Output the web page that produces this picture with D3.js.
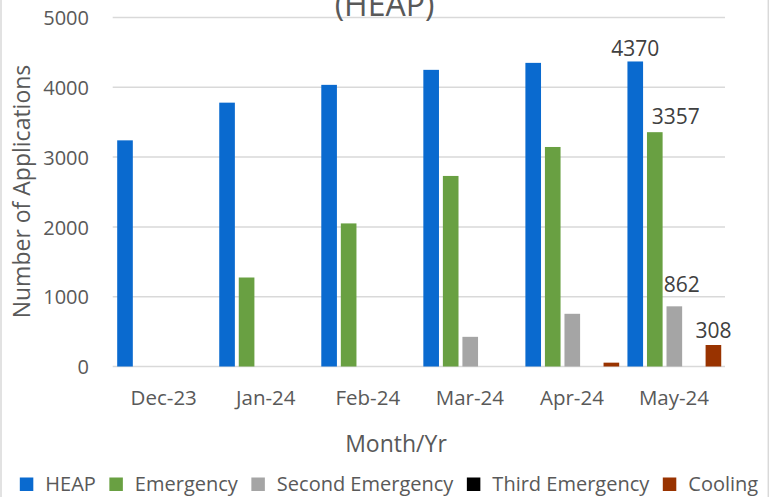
<!DOCTYPE html>
<html>
<head>
<meta charset="utf-8">
<script src="https://cdn.jsdelivr.net/npm/d3@7/dist/d3.min.js"></script>
<style>
  html, body { margin: 0; padding: 0; background: #ffffff; }
  svg { display: block; font-family: "Open Sans", sans-serif; }
</style>
</head>
<body>
<svg id="chart" width="782" height="497"></svg>
<script>
// Monthly applications by program
const months = ["Dec-23", "Jan-24", "Feb-24", "Mar-24", "Apr-24", "May-24"];
const seriesNames = ["HEAP", "Emergency", "Second Emergency", "Third Emergency", "Cooling"];
const heap = [3240, 3780, 4035, 4250, 4350, 4370];
const emergency = [0, 1275, 2050, 2730, 3145, 3357];
const secondEmergency = [0, 0, 0, 425, 755, 862];
const thirdEmergency = [0, 0, 0, 0, 0, 0];
const cooling = [0, 0, 0, 0, 55, 308];
const yTicks = [0, 1000, 2000, 3000, 4000, 5000];
const seriesColors = ["#0A6ACF", "#69A042", "#A5A5A5", "#000000", "#993300"];

const seriesValues = [heap, emergency, secondEmergency, thirdEmergency, cooling];

// value labels shown for the latest month, with small placement nudges
const labelled = [
  { series: "HEAP", month: "May-24", dx: 0, gap: 5 },
  { series: "Emergency", month: "May-24", dx: 21, gap: 8 },
  { series: "Second Emergency", month: "May-24", dx: 7.5, gap: 14 },
  { series: "Cooling", month: "May-24", dx: 0, gap: 7 }
];

const svg = d3.select("#chart");
const textColor = "#595959";
const gridColor = "#D9D9D9";

const plot = { left: 112.7, right: 725, top: 17.5, bottom: 366.5 };

const x0 = d3.scaleBand().domain(months).range([plot.left, plot.right]).padding(0);
const x1 = d3.scaleBand().domain(seriesNames)
  .range([x0.bandwidth() * 0.044, x0.bandwidth() * 0.963])
  .paddingInner(0.2).paddingOuter(0);
const y = d3.scaleLinear().domain([0, 5000]).range([plot.bottom, plot.top]);
const color = d3.scaleOrdinal().domain(seriesNames).range(seriesColors);

// chart area frame (left and right edges)
svg.append("line").attr("x1", 1).attr("x2", 1).attr("y1", 0).attr("y2", 497)
  .attr("stroke", gridColor).attr("stroke-width", 1.5);
svg.append("line").attr("x1", 768.3).attr("x2", 768.3).attr("y1", 0).attr("y2", 497)
  .attr("stroke", gridColor).attr("stroke-width", 1.5);

// gridlines
svg.append("g")
  .selectAll("line")
  .data(yTicks)
  .join("line")
  .attr("x1", plot.left).attr("x2", plot.right)
  .attr("y1", d => y(d)).attr("y2", d => y(d))
  .attr("stroke", gridColor).attr("stroke-width", 1.5);

// y axis labels
const yAxis = d3.axisLeft(y).tickValues(yTicks).tickSize(0).tickPadding(0).tickFormat(d3.format("d"));
const gy = svg.append("g").attr("transform", `translate(89,0)`).call(yAxis);
gy.select(".domain").remove();
gy.selectAll("text")
  .attr("fill", textColor).attr("font-size", 20)
  .attr("font-family", "Open Sans, sans-serif")
  .attr("dy", "0.36em");

// x axis labels
const xAxis = d3.axisBottom(x0).tickSize(0).tickPadding(0);
const gx = svg.append("g").attr("transform", `translate(0,405)`).call(xAxis);
gx.select(".domain").remove();
gx.selectAll("text")
  .attr("fill", textColor).attr("font-size", 20.5)
  .attr("font-family", "Open Sans, sans-serif")
  .attr("dy", "0");

// bars
const groups = svg.append("g")
  .selectAll("g")
  .data(months)
  .join("g")
  .attr("transform", d => `translate(${x0(d)},0)`);

groups.selectAll("rect")
  .data((m, i) => seriesNames.map((s, k) => ({ series: s, month: m, value: seriesValues[k][i] })))
  .join("rect")
  .attr("x", d => x1(d.series))
  .attr("width", x1.bandwidth())
  .attr("y", d => y(d.value))
  .attr("height", d => y(0) - y(d.value))
  .attr("fill", d => color(d.series));

// value labels
svg.append("g")
  .selectAll("text")
  .data(labelled)
  .join("text")
  .attr("x", d => x0(d.month) + x1(d.series) + x1.bandwidth() / 2 + d.dx)
  .attr("y", d => {
    const v = seriesValues[seriesNames.indexOf(d.series)][months.indexOf(d.month)];
    return y(v) - d.gap;
  })
  .attr("text-anchor", "middle")
  .attr("font-size", 21)
  .attr("fill", "#404040")
  .text(d => seriesValues[seriesNames.indexOf(d.series)][months.indexOf(d.month)]);

// title (upper line falls outside the frame)
svg.append("text")
  .attr("x", 384.5).attr("y", 16)
  .attr("text-anchor", "middle")
  .attr("font-size", 32)
  .attr("fill", textColor)
  .text("(HEAP)");

// axis titles
svg.append("text")
  .attr("transform", "translate(30,191.5) rotate(-90)")
  .attr("text-anchor", "middle")
  .attr("font-size", 23)
  .attr("fill", textColor)
  .text("Number of Applications");

svg.append("text")
  .attr("x", 396).attr("y", 452)
  .attr("text-anchor", "middle")
  .attr("font-size", 23)
  .attr("fill", textColor)
  .text("Month/Yr");

// legend
const legend = svg.append("g").attr("transform", "translate(0,491)");
const items = legend.selectAll("g")
  .data(seriesNames)
  .join("g");
items.append("rect")
  .attr("width", 13.5).attr("height", 13.5)
  .attr("y", -13.5)
  .attr("fill", d => color(d));
items.append("text")
  .attr("x", 25.5).attr("y", 0)
  .attr("font-size", 20)
  .attr("fill", textColor)
  .text(d => d);

let offsets = [];
let cursor = 0;
const itemGap = 13.5;
items.each(function (d) {
  const w = 25.5 + d3.select(this).select("text").node().getComputedTextLength();
  offsets.push(cursor);
  cursor += w + itemGap;
});
const totalW = cursor - itemGap;
const startX = 389 - totalW / 2;
items.attr("transform", (d, i) => `translate(${startX + offsets[i]},0)`);
</script>
</body>
</html>
